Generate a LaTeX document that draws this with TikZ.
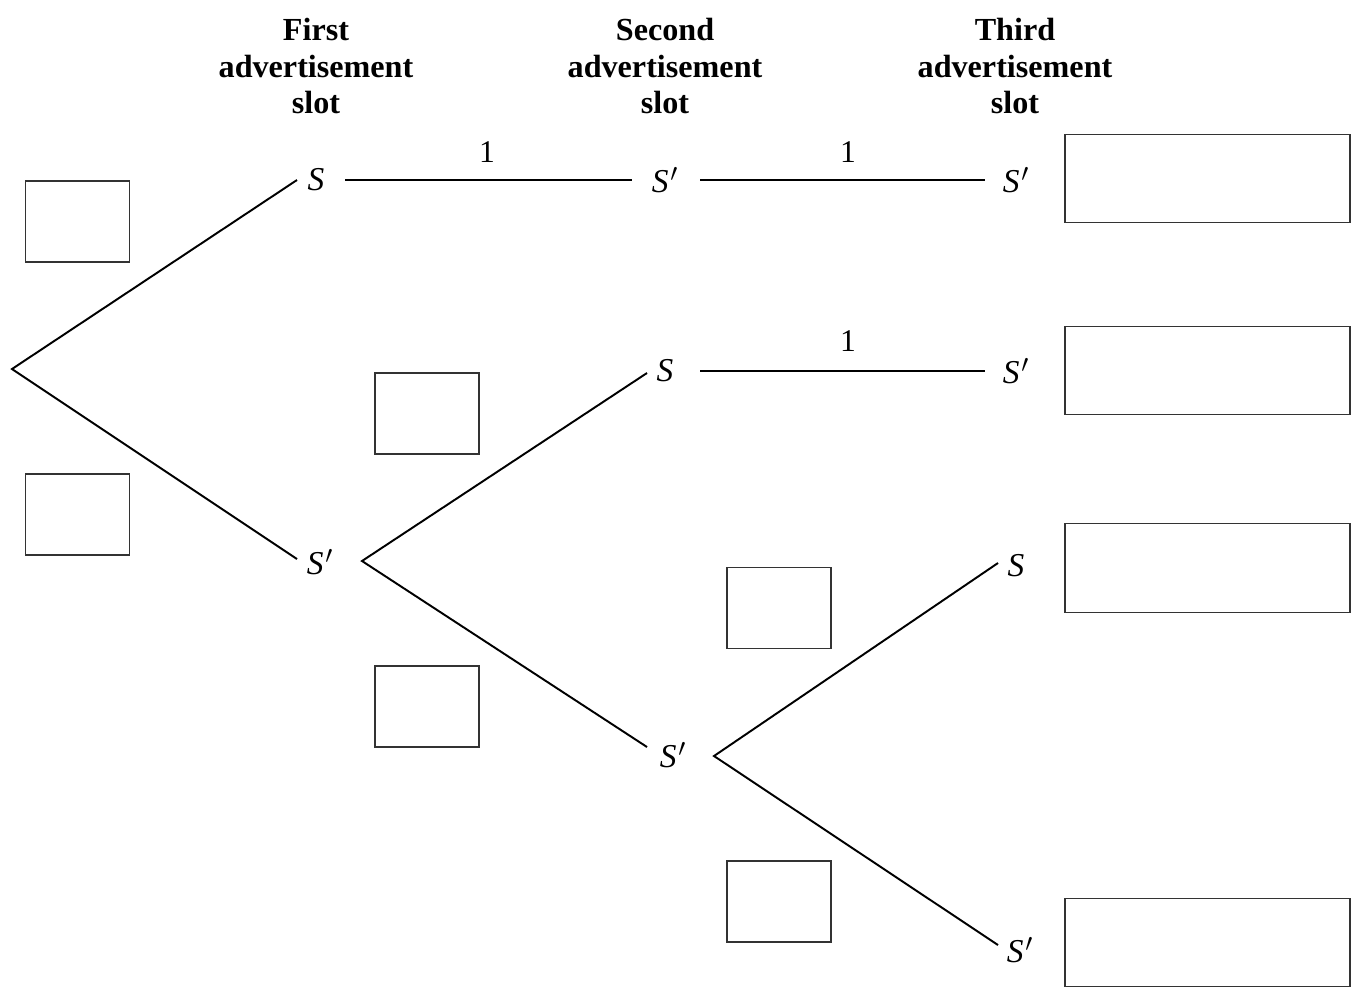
\documentclass[tikz,border=0pt]{standalone}
\usepackage{fontspec}
\setmainfont{Liberation Serif}
\begin{document}
\begin{tikzpicture}[x=0.02cm,y=-0.02cm,
  hdr/.style={font=\bfseries\fontsize{18.3}{21}\selectfont, align=center, inner sep=0pt},
  lab/.style={font=\itshape\fontsize{19}{22}\selectfont, inner sep=0pt},
  num/.style={font=\fontsize{18}{20}\selectfont, inner sep=0pt},
  branch/.style={line width=1.1pt, black},
  smallbox/.style={draw=black!80, line width=0.8pt, minimum width=2.08cm, minimum height=1.62cm, inner sep=0pt},
  bigbox/.style={draw=black!80, line width=0.8pt, minimum width=5.7cm, minimum height=1.77cm, inner sep=0pt}]
\useasboundingbox (0,0) rectangle (1356,988);
% headers
\node[hdr] (h1) at (316,66) {First\\advertisement\\slot};
\node[hdr] (h2) at (665,66) {Second\\advertisement\\slot};
\node[hdr] (h3) at (1015,66) {Third\\advertisement\\slot};
% labels
\node[lab] (a1) at (316,180) {S};
\node[lab] (b1) at (320,562) {S\kern1pt$'$};
\node[lab] (a2) at (665,180) {S\kern1pt$'$};
\node[lab] (b2) at (665,371) {S};
\node[lab] (c2) at (673,755) {S\kern1pt$'$};
\node[lab] (a3) at (1016,180) {S\kern1pt$'$};
\node[lab] (b3) at (1016,371) {S\kern1pt$'$};
\node[lab] (c3) at (1016,566) {S};
\node[lab] (d3) at (1020,950) {S\kern1pt$'$};
\node[num] (n1) at (487,152) {1};
\node[num] (n2) at (848,152) {1};
\node[num] (n3) at (848,341) {1};
% endpoints
\coordinate (root) at (12,369);
\coordinate (ra) at (297,180);
\coordinate (rb) at (297,559);
\coordinate (bv) at (362,561);
\coordinate (bb) at (647,373);
\coordinate (bc) at (647,747);
\coordinate (cv) at (714,756);
\coordinate (cc) at (998,563);
\coordinate (cd) at (998,945);
\coordinate (h1s) at (345,180);
\coordinate (h1e) at (632,180);
\coordinate (h2s) at (700,180);
\coordinate (h2e) at (985,180);
\coordinate (h3s) at (700,371);
\coordinate (h3e) at (985,371);
% branches
\draw[branch] (ra) -- (root) -- (rb);
\draw[branch] (bb) -- (bv) -- (bc);
\draw[branch] (cc) -- (cv) -- (cd);
\draw[branch, line width=0.8pt] (h1s) -- (h1e);
\draw[branch, line width=0.8pt] (h2s) -- (h2e);
\draw[branch, line width=0.8pt] (h3s) -- (h3e);
% boxes
\node[smallbox] (s1) at (77.5,221.5) {};
\node[smallbox] (s2) at (77.5,514.5) {};
\node[smallbox] (s3) at (427,413.5) {};
\node[smallbox] (s4) at (427,706.5) {};
\node[smallbox] (s5) at (779,608) {};
\node[smallbox] (s6) at (779,901.5) {};
\node[bigbox] (g1) at (1207.5,178.5) {};
\node[bigbox] (g2) at (1207.5,370.5) {};
\node[bigbox] (g3) at (1207.5,568) {};
\node[bigbox] (g4) at (1207.5,942.5) {};
\end{tikzpicture}
\end{document}
